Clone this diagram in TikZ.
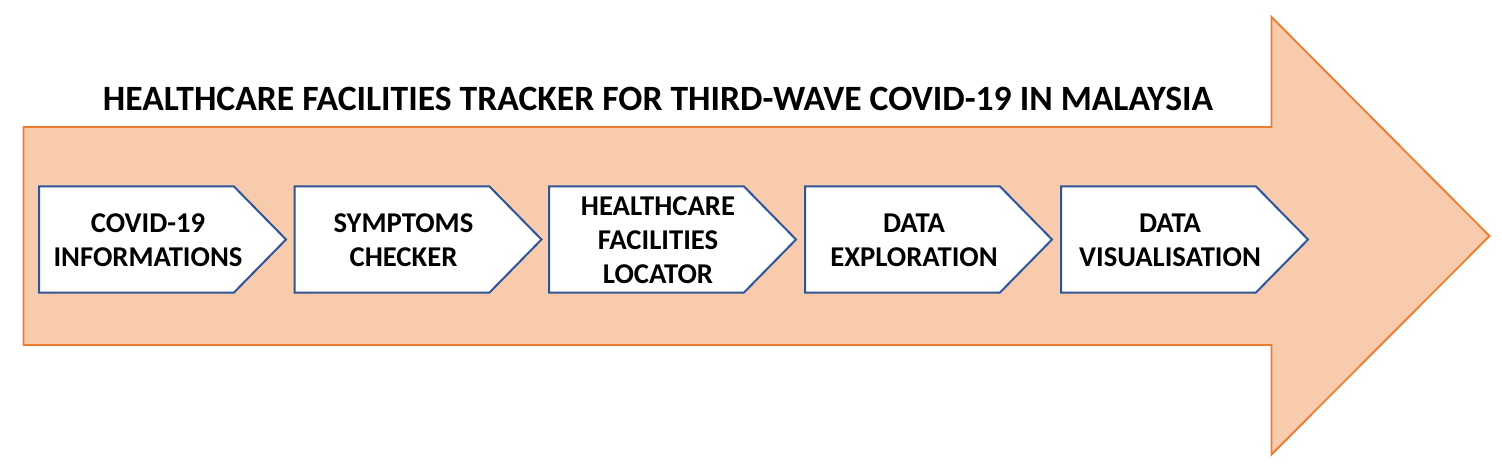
\documentclass[tikz,border=0pt]{standalone}
\usepackage{fontspec}
\setmainfont{Carlito}
\definecolor{arrowfill}{HTML}{F8CBAD}
\definecolor{arrowline}{HTML}{ED7D31}
\definecolor{boxline}{HTML}{2F5597}
\begin{document}
\begin{tikzpicture}[x=0.75pt,y=-0.75pt,
  boxshape/.style={draw=boxline,fill=white,line width=1.5pt,line join=miter},
  boxtext/.style={align=center,font=\bfseries\fontsize{21.5}{25.5}\selectfont,inner sep=0pt},
  titletext/.style={font=\bfseries\fontsize{26.7}{30}\selectfont,inner sep=0pt}]
\useasboundingbox (0,0) rectangle (1502,474);
% big arrow
\draw[fill=arrowfill,draw=arrowline,line width=1.4pt,line join=miter]
  (23.5,127) -- (1271.5,127) -- (1271.5,17) -- (1489.5,236) -- (1271.5,454.5) -- (1271.5,345) -- (23.5,345) -- cycle;
\node[titletext] (title) at (658,99) {HEALTHCARE FACILITIES TRACKER FOR THIRD-WAVE COVID-19 IN MALAYSIA};
% step boxes
\foreach \l/\name/\txt in {39/s1/{COVID-19\\INFORMATIONS},294.5/s2/{SYMPTOMS\\CHECKER},549/s3/{HEALTHCARE\\FACILITIES\\LOCATOR},805/s4/{DATA\\EXPLORATION},1061/s5/{DATA\\VISUALISATION}}{
  \draw[boxshape] (\l,186.5) -- ({\l+195},186.5) -- ({\l+247},239.5) -- ({\l+195},292.5) -- (\l,292.5) -- cycle;
  \node[boxtext] (\name) at ({\l+109},240) {\txt};
}
\end{tikzpicture}
\end{document}
